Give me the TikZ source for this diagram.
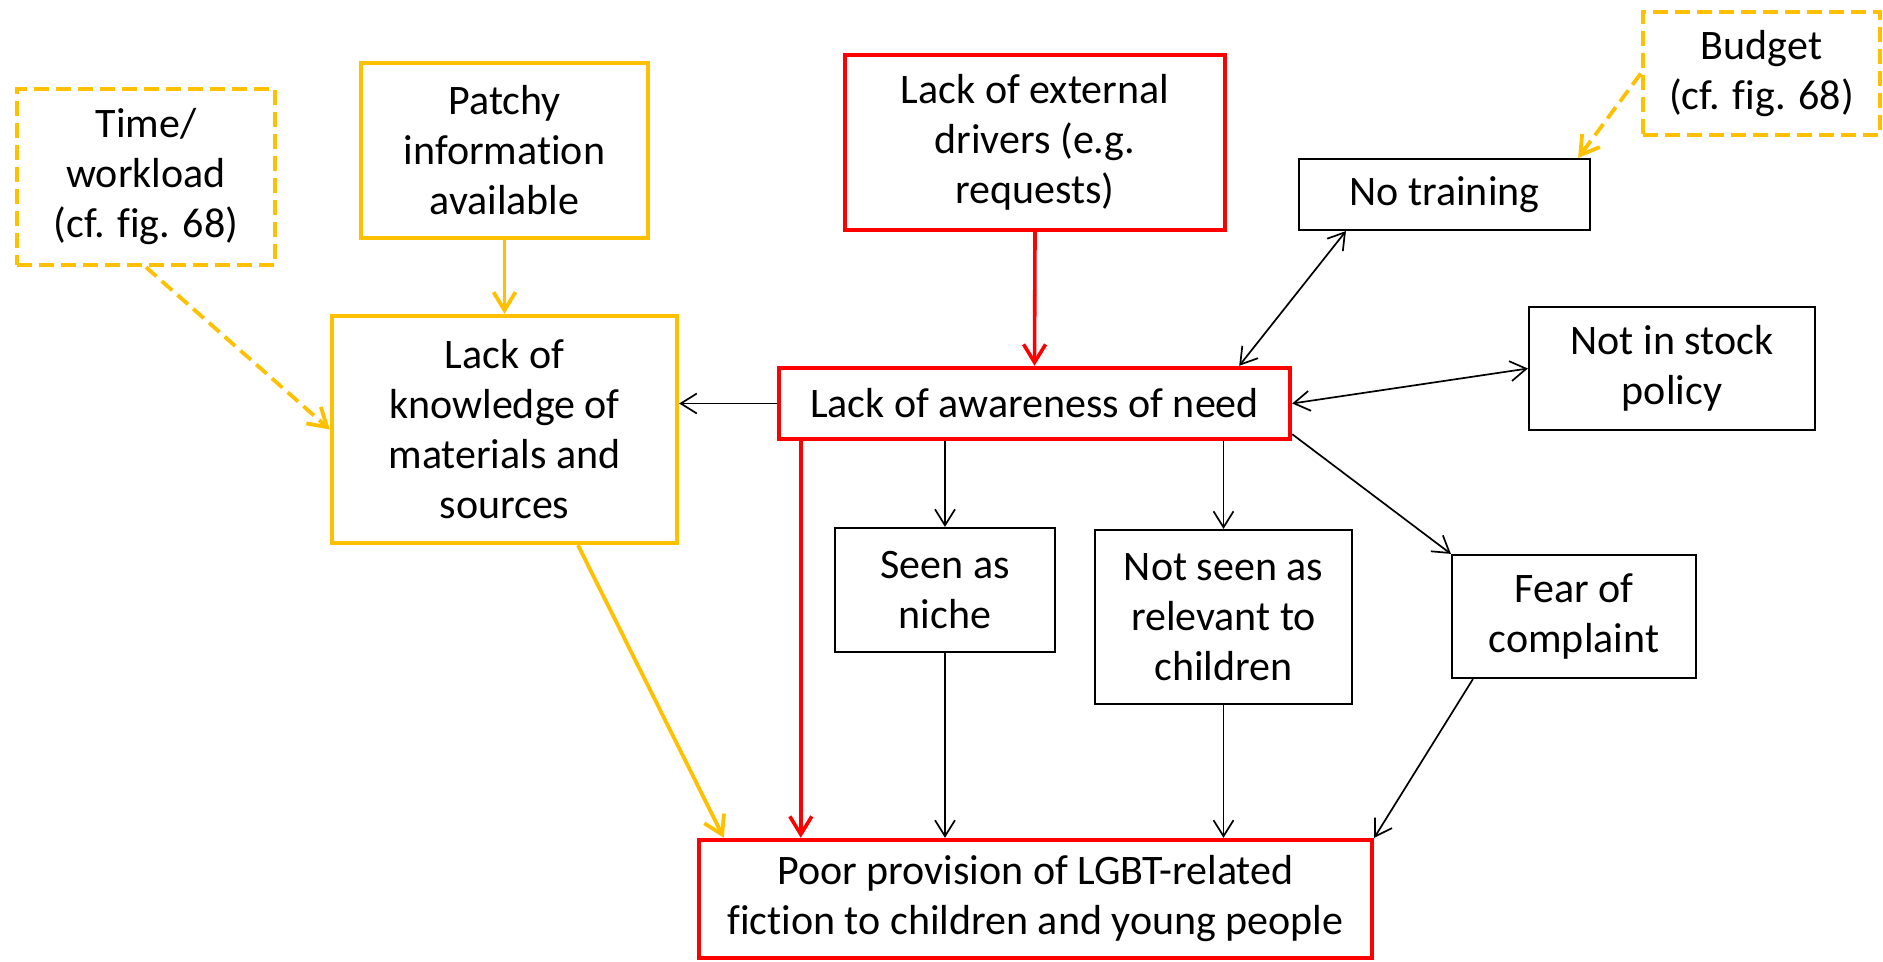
\documentclass[tikz,border=0pt]{standalone}
\usepackage{fontspec}
\setmainfont[Ligatures=NoCommon]{Carlito}
\definecolor{gold}{HTML}{FFC000}
\definecolor{alarm}{HTML}{FF0000}
\usetikzlibrary{arrows.meta, calc}
\tikzset{
  box/.style={draw=black, line width=1.1pt, fill=white, align=center, inner sep=0pt,
              font=\fontsize{21}{25}\selectfont},
  redbox/.style={box, draw=alarm, line width=2.2pt},
  goldbox/.style={box, draw=gold, line width=2.2pt},
  gapbox/.style={goldbox, dash pattern=on 7.5pt off 3.5pt},
  flow/.style={-{Straight Barb[length=8pt,width=10pt]}, line width=0.85pt},
  twoflow/.style={{Straight Barb[length=8pt,width=10pt]}-{Straight Barb[length=8pt,width=10pt]}, line width=0.85pt},
  redflow/.style={-{Straight Barb[length=9pt,width=11pt]}, line width=1.8pt, color=alarm},
  goldflow/.style={-{Straight Barb[length=9pt,width=11pt]}, line width=1.9pt, color=gold},
  gapflow/.style={goldflow, dash pattern=on 7pt off 3.5pt},
}
\begin{document}
\begin{tikzpicture}[x=0.5pt,y=-0.5pt]
\useasboundingbox (0,0) rectangle (1883,962);
% causes on top
\node[gapbox,minimum width=129pt,minimum height=88pt] (time) at (146,177) {Time/\\workload\\(cf. fig. 68)};
\node[goldbox,minimum width=143.5pt,minimum height=87.5pt] (patchy) at (504.5,150.5) {Patchy\\information\\available};
\node[goldbox,minimum width=172.5pt,minimum height=113.5pt] (know) at (504.5,429.5) {Lack of\\knowledge of\\materials and\\sources};
\node[redbox,minimum width=190pt,minimum height=87.5pt] (ext) at (1035,142.5) {Lack of external\\drivers (e.g.\\requests)};
\node[gapbox,minimum width=118.5pt,minimum height=61.5pt] (budget) at (1761.5,73.5) {Budget\\(cf. fig. 68)};
\node[box,minimum width=145.5pt,minimum height=35.5pt] (notrain) at (1444.5,194.5) {No training};
\node[redbox,minimum width=255.5pt,minimum height=35.5pt] (aware) at (1034.5,403.5) {Lack of awareness of need};
\node[box,minimum width=143pt,minimum height=61.5pt] (stock) at (1672,368.5) {Not in stock\\policy};
% middle row
\node[box,minimum width=110pt,minimum height=62pt] (niche) at (945,590) {Seen as\\niche};
\node[box,minimum width=128.5pt,minimum height=87pt] (notseen) at (1223.5,617) {Not seen as\\relevant to\\children};
\node[box,minimum width=122pt,minimum height=61.5pt] (fear) at (1574,616.5) {Fear of\\complaint};
\node[redbox,minimum width=336.5pt,minimum height=59pt] (poor) at (1035.5,899) {Poor provision of LGBT-related\\fiction to children and young people};
% connectors
\draw[gapflow] (time.south) -- (know.west);
\draw[goldflow] (patchy.south) -- (know.north);
\draw[goldflow] ($(know.south)+(73.5,0)$) -- ($(poor.north west)+(27,0)$);
\draw[redflow] (ext.south) -- (aware.north);
\draw[flow] (aware.west) -- (aware.west -| know.east);
\draw[redflow] ($(aware.south west)+(24,0)$) coordinate (r0) -- (r0 |- poor.north);
\draw[flow] (aware.south -| niche.north) -- (niche.north);
\draw[flow] (aware.south -| notseen.north) -- (notseen.north);
\draw[flow] ($(aware.south east)+(0,-7)$) -- (fear.north west);
\draw[twoflow] ($(aware.north east)+(-53,0)$) -- ($(notrain.south west)+(48,0)$);
\draw[twoflow] (aware.east) -- (stock.west);
\draw[gapflow] (budget.west) -- ($(notrain.north east)+(-13,0)$);
\draw[flow] (niche.south) -- (niche.south |- poor.north);
\draw[flow] (notseen.south) -- (notseen.south |- poor.north);
\draw[flow] ($(fear.south west)+(22,0)$) -- (poor.north east);
\end{tikzpicture}
\end{document}
